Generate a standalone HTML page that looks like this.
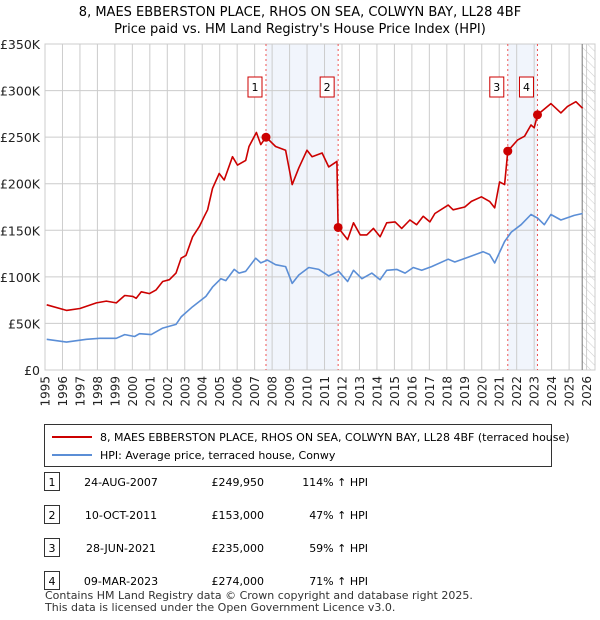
<!DOCTYPE html>
<html><head><meta charset="utf-8"><style>
body{margin:0;background:#fff;font-family:"Liberation Sans","DejaVu Sans",sans-serif;}
#wrap{position:relative;width:600px;height:620px;overflow:hidden}
svg text{font-family:"DejaVu Sans","Liberation Sans",sans-serif}
</style></head><body><div id="wrap">
<svg id="chart" width="600" height="620"></svg>
</div>
<script>
const redYears=[1995.1,1996.23,1997.0,1997.94,1998.51,1999.08,1999.56,2000.03,2000.22,2000.51,2000.98,2001.36,2001.74,2002.12,2002.5,2002.79,2003.07,2003.45,2003.83,2004.12,2004.31,2004.59,2004.97,2005.26,2005.73,2006.02,2006.49,2006.68,2007.1,2007.35,2007.65,2008.2,2008.77,2009.15,2009.53,2010.0,2010.29,2010.86,2011.24,2011.71,2011.78,2012.32,2012.66,2013.04,2013.42,2013.8,2014.18,2014.56,2015.04,2015.42,2015.89,2016.27,2016.65,2017.03,2017.32,2018.08,2018.36,2019.03,2019.41,2019.98,2020.45,2020.74,2021.02,2021.31,2021.49,2022.06,2022.45,2022.82,2023.0,2023.19,2023.96,2024.53,2024.91,2025.39,2025.77];
const redValues=[70,64,66,72,74,72,80,79,77,84,82,86,95,97,104,120,123,143,154,165,172,195,211,204,229,220,225,240,255,242,250,240,236,199,217,236,229,233,218,224,153,140,158,145,145,152,143,158,159,152,161,156,165,159,168,177,172,175,181,186,181,174,202,199,235,247,251,263,260,274,286,276,283,288,281];
const blueYears=[1995.1,1996.23,1997.37,1998.13,1999.08,1999.56,2000.13,2000.41,2001.08,2001.74,2002.5,2002.79,2003.45,2004.21,2004.59,2005.07,2005.35,2005.83,2006.11,2006.49,2007.06,2007.35,2007.73,2008.2,2008.77,2009.15,2009.53,2010.1,2010.67,2011.24,2011.81,2012.32,2012.66,2013.14,2013.71,2014.18,2014.56,2015.13,2015.61,2016.08,2016.56,2017.13,2018.08,2018.46,2019.22,2020.07,2020.45,2020.74,2021.31,2021.69,2022.25,2022.82,2023.2,2023.58,2023.96,2024.53,2025.29,2025.77];
const blueValues=[33,30,33,34,34,38,36,39,38,45,49,57,68,79,89,98,96,108,104,106,120,115,118,113,111,93,102,110,108,101,106,95,107,98,104,97,107,108,104,110,107,111,119,116,121,127,124,115,138,148,156,167,163,156,167,161,166,168];
const sales=[{n:"1",year:2007.65,value:249.95},{n:"2",year:2011.78,value:153},{n:"3",year:2021.49,value:235},{n:"4",year:2023.19,value:274}];
const yTicks=[0,50,100,150,200,250,300,350];
const yTickLabels=["£0","£50K","£100K","£150K","£200K","£250K","£300K","£350K"];
const xTicks=[1995,1996,1997,1998,1999,2000,2001,2002,2003,2004,2005,2006,2007,2008,2009,2010,2011,2012,2013,2014,2015,2016,2017,2018,2019,2020,2021,2022,2023,2024,2025,2026];
const tableDates=["24-AUG-2007","10-OCT-2011","28-JUN-2021","09-MAR-2023"];
const tablePrices=["£249,950","£153,000","£235,000","£274,000"];
const tablePct=["114% ↑ HPI","47% ↑ HPI","59% ↑ HPI","71% ↑ HPI"];

const L=45,R=595,T=44,B=370,dataEnd=2025.75;
const x=y=>45+(y-1995)*17.47;
const yv=v=>B-(v/350)*(B-T);
const svg=document.getElementById('chart');
const NS='http://www.w3.org/2000/svg';
function el(tag,attrs,parent){const e=document.createElementNS(NS,tag);for(const k in attrs)e.setAttribute(k,attrs[k]);(parent||svg).appendChild(e);return e;}
function txt(s,attrs){const e=el('text',attrs);e.textContent=s;return e;}

let t=txt("8, MAES EBBERSTON PLACE, RHOS ON SEA, COLWYN BAY, LL28 4BF",{x:300,y:16,'text-anchor':'middle','font-size':13});

t=txt("Price paid vs. HM Land Registry's House Price Index (HPI)",{x:300,y:33,'text-anchor':'middle','font-size':13});


let s=el('rect',{x:x(sales[0].year),y:T,width:x(sales[1].year)-x(sales[0].year),height:B-T,fill:'#eef2fb',opacity:0.8});

s=el('rect',{x:x(sales[2].year),y:T,width:x(sales[3].year)-x(sales[2].year),height:B-T,fill:'#eef2fb',opacity:0.8});


const defs=el('defs',{});
const pat=el('pattern',{id:'h',width:6,height:6,patternUnits:'userSpaceOnUse',patternTransform:'rotate(-45)'},defs);
el('line',{x1:0,y1:0,x2:0,y2:6,stroke:'#ccc','stroke-width':1},pat);
s=el('rect',{x:x(dataEnd),y:T,width:R-x(dataEnd),height:B-T,fill:'url(#h)'});


yTicks.forEach((v,i)=>{
  const g=el('line',{x1:L,x2:R,y1:yv(v),y2:yv(v),stroke:'#ccc','stroke-width':1});
  
  const lb=txt(yTickLabels[i],{x:40,y:yv(v)+5,'text-anchor':'end','font-size':12.5,fill:'#222'});
  
});
xTicks.forEach(yr=>{
  const g=el('line',{x1:x(yr),x2:x(yr),y1:T,y2:B,stroke:'#ccc','stroke-width':1});
  
  const lx=x(yr)+4.5,ly=376;
  const lb=txt(String(yr),{x:lx,y:ly,'text-anchor':'end','font-size':12,fill:'#222',transform:'rotate(-90 '+lx+' '+ly+')'});
  
});
s=el('rect',{x:L,y:T,width:R-L,height:B-T,fill:'none',stroke:'#ccc'});

s=el('line',{x1:x(dataEnd),x2:x(dataEnd),y1:T,y2:B,stroke:'#777'});


sales.forEach(sl=>{
  const l=el('line',{x1:x(sl.year),x2:x(sl.year),y1:T,y2:B,stroke:'#e55','stroke-width':1,'stroke-dasharray':'2,3'});
  
});

function path(xs,vs,color,name){
  const d=xs.map((yr,i)=>(i?'L':'M')+x(yr).toFixed(1)+','+yv(vs[i]).toFixed(1)).join('');
  const p=el('path',{d,fill:'none',stroke:color,'stroke-width':1.6,'stroke-linejoin':'round'});
  
}
path(blueYears,blueValues,'#5b8ed6','hpi-line');
path(redYears,redValues,'#cc0000','price-line');

sales.forEach(sl=>{
  const c=el('circle',{cx:x(sl.year),cy:yv(sl.value),r:4.5,fill:'#cc0000'});
  
  const r=el('rect',{x:x(sl.year)-18,y:77,width:14,height:20,fill:'#fff',stroke:'#cc0000'});
  
  const tt=txt(sl.n,{x:x(sl.year)-11,y:91,'text-anchor':'middle','font-size':11});
  
});

s=el('rect',{x:44.5,y:424.5,width:507,height:42,fill:'#fff',stroke:'#333'});

s=el('line',{x1:52,x2:92,y1:437,y2:437,stroke:'#cc0000','stroke-width':2});

t=txt("8, MAES EBBERSTON PLACE, RHOS ON SEA, COLWYN BAY, LL28 4BF (terraced house)",{x:100,y:441,'font-size':11});

s=el('line',{x1:52,x2:92,y1:455,y2:455,stroke:'#5b8ed6','stroke-width':2});

t=txt("HPI: Average price, terraced house, Conwy",{x:100,y:459,'font-size':11});


const rowY=[482,515,548,581];
rowY.forEach((ry,i)=>{
  const b=el('rect',{x:44.5,y:ry-9.5,width:15,height:18,fill:'#fff',stroke:'#333'});
  
  let q=txt(String(i+1),{x:52,y:ry+4,'text-anchor':'middle','font-size':11});
  
  q=txt(tableDates[i],{x:121,y:ry+4,'text-anchor':'middle','font-size':11});
  
  q=txt(tablePrices[i],{x:264,y:ry+4,'text-anchor':'end','font-size':11});
  
  q=txt(tablePct[i],{x:368,y:ry+4,'text-anchor':'end','font-size':11});
  
});
t=txt("Contains HM Land Registry data © Crown copyright and database right 2025.",{x:45,y:599,'font-size':11,fill:'#333'});

t=txt("This data is licensed under the Open Government Licence v3.0.",{x:45,y:611,'font-size':11,fill:'#333'});

</script></body></html>
